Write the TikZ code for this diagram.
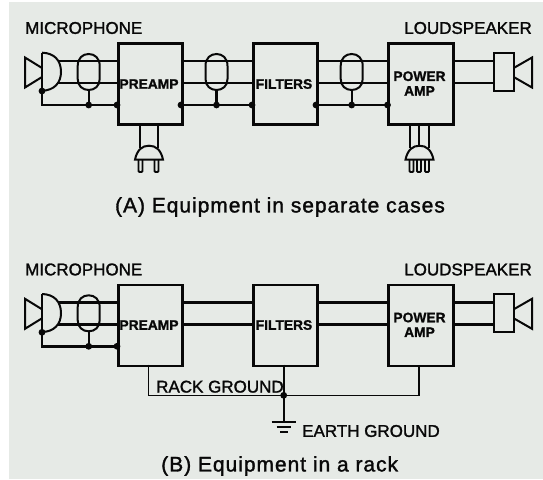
\documentclass[tikz,border=0pt]{standalone}
\usepackage{fontspec}
\setmainfont{Liberation Sans}
\newfontfamily\tagfont[FakeBold=1.5]{Liberation Sans}
\newfontfamily\capfont[FakeBold=1.5,LetterSpace=4.6]{Liberation Sans}
\newfontfamily\blockfont[FakeBold=1.2]{Liberation Sans Bold}
\definecolor{ink}{HTML}{080808}
\definecolor{paper}{HTML}{E6EAE6}
\tikzset{
  x=1pt,y=-1pt,
  heavy/.style={line width=2.7pt,draw=ink,fill=none,inner sep=0pt,anchor=north west},
  wire/.style={line width=2.4pt,draw=ink},
  thin wire/.style={line width=2pt,draw=ink},
  rack wire/.style={line width=1.6pt,draw=ink},
  blocklabel/.style={font=\fontsize{13.8}{14.7}\blockfont\selectfont,align=center,text=ink,inner sep=0pt},
  tag/.style={font=\fontsize{17}{18}\tagfont\selectfont,text=ink,inner sep=0pt},
  caption/.style={font=\fontsize{21}{22}\capfont\selectfont,text=ink,inner sep=0pt},
  junction/.style={circle,fill=ink,inner sep=0pt,minimum size=6.8pt},
}
\newcommand{\micro}[1]{%
  \begin{scope}[yshift=#1]
    \draw[thin wire,line join=miter] (42,68) -- (25,57.5) -- (25,87.5) -- (42,77);
    \draw[thin wire] (42,52.7) -- (42,90.7);
    \draw[thin wire] (42,52.7) .. controls (54,53) and (61,60) .. (61,72) .. controls (61,83) and (54,90.5) .. (42,90.7);
  \end{scope}}
\newcommand{\capsule}[2]{%
  \begin{scope}[yshift=#2]
    \draw[thin wire] (#1-11,66) .. controls (#1-11,58) and (#1-6,54) .. (#1,54) .. controls (#1+6,54) and (#1+11,58) .. (#1+11,66) -- (#1+11,79) .. controls (#1+11,86) and (#1+6,90) .. (#1,90) .. controls (#1-6,90) and (#1-11,86) .. (#1-11,79) -- cycle;
  \end{scope}}
\newcommand{\loudspk}[1]{%
  \begin{scope}[yshift=#1]
    \draw[thin wire] (493.7,52.7) rectangle (513.7,91);
    \draw[thin wire,line join=miter] (513.7,68) -- (532,57.5) -- (532,87.5) -- (513.7,77);
  \end{scope}}
\newcommand{\dome}[1]{%
  \draw[thin wire,line join=miter] (#1-14,159.7) .. controls (#1-12,150) and (#1-7,145.7) .. (#1,145.7) .. controls (#1+7,145.7) and (#1+12,150) .. (#1+14,159.7) -- cycle;}
\newcommand{\prong}[1]{%
  \draw[line width=1.8pt,draw=ink,rounded corners=1pt] (#1-2,159.7) -- (#1-2,172) -- (#1+2,172) -- (#1+2,159.7);}
\begin{document}
\begin{tikzpicture}
\useasboundingbox (0,0) rectangle (543,479);
\fill[white] (0,0) rectangle (543,479);
\fill[paper] (9,2) rectangle (543,479);

%% Panel A
\node[tag,anchor=west] (micA) at (25,28) {MICROPHONE};
\node[tag,anchor=east] (spkA) at (532,28) {LOUDSPEAKER};
\node[heavy,draw,minimum width=64pt,minimum height=81pt] (preA) at (117,42) {};
\node[heavy,draw,minimum width=64pt,minimum height=81pt] (filA) at (252,42) {};
\node[heavy,draw,minimum width=65pt,minimum height=81pt] (powA) at (387,42) {};
\node[blocklabel] (preAt) at (149,84) {PREAMP};
\node[blocklabel] (filAt) at (284,84) {FILTERS};
\node[blocklabel] (powAt) at (419.5,83.5) {POWER\\AMP};

\foreach \yy in {61,83}{
  \draw[wire] (58,\yy) -- (117,\yy);
  \draw[wire] (181,\yy) -- (252,\yy);
  \draw[wire] (316,\yy) -- (387,\yy);
  \draw[wire] (452,\yy) -- (494,\yy);
}
\micro{0pt}
\capsule{88.7}{0pt}
\capsule{216.5}{0pt}
\capsule{351.7}{0pt}
\loudspk{0pt}
\draw[wire] (42,91) -- (42,105) -- (117,105);
\draw[wire] (181,105) -- (252,105);
\draw[wire] (316,105) -- (387,105);
\draw[wire] (88.7,90) -- (88.7,105);
\draw[wire] (216.5,90) -- (216.5,105);
\draw[wire] (351.7,90) -- (351.7,105);
\foreach \xx/\yy in {42/91,88.7/105,117/105,181/105,216.5/105,252/105,316/105,351.7/105,387.5/105}{
  \node[junction] at (\xx,\yy) {};
}
% plugs
\draw[thin wire] (139.7,123) -- (139.7,148);
\draw[thin wire] (158.3,123) -- (158.3,148);
\dome{149}
\prong{140.5}\prong{156.5}
\draw[thin wire] (410,123) -- (410,148);
\draw[thin wire] (419,123) -- (419,146);
\draw[thin wire] (429,123) -- (429,148);
\dome{419.5}
\prong{411.5}\prong{419}\prong{427}
\node[caption] (capA) at (280,207) {(A) Equipment in separate cases};

%% Panel B
\node[tag,anchor=west] (micB) at (25,269.5) {MICROPHONE};
\node[tag,anchor=east] (spkB) at (532,269.5) {LOUDSPEAKER};
\node[heavy,draw,minimum width=64pt,minimum height=81pt] (preB) at (117,283.5) {};
\node[heavy,draw,minimum width=64pt,minimum height=81pt] (filB) at (252,283.5) {};
\node[heavy,draw,minimum width=65pt,minimum height=81pt] (powB) at (387,283.5) {};
\node[blocklabel] (preBt) at (149,325) {PREAMP};
\node[blocklabel] (filBt) at (284,325) {FILTERS};
\node[blocklabel] (powBt) at (419.5,324.8) {POWER\\AMP};
\foreach \yy in {302.3,324.3}{
  \draw[wire] (58,\yy) -- (117,\yy);
  \draw[wire] (181,\yy) -- (252,\yy);
  \draw[wire] (316,\yy) -- (387,\yy);
  \draw[wire] (452,\yy) -- (494,\yy);
}
\micro{-241.3pt}
\capsule{88.7}{-241.3pt}
\loudspk{-241.3pt}
\draw[wire] (42,332.3) -- (42,346.3) -- (117,346.3);
\draw[wire] (88.7,331.3) -- (88.7,346.3);
\node[junction] (j1) at (42,332.3) {};
\node[junction] (j2) at (88.7,346.3) {};
\node[junction] (j3) at (117,346.3) {};
\coordinate (rackL) at (148.3,395.3);
\coordinate (rackR) at (419,395.3);
\coordinate (earth) at (283.7,421.7);
\node[junction] (rackJ) at (283.7,395.3) {};
\draw[rack wire] (148.3,364.5) -- (rackL) -- (rackR) -- (419,364.5);
\draw[wire] (283.7,364.5) -- (earth);
\draw[wire] (271.7,422) -- (295.7,422);
\draw[thin wire] (276.5,427) -- (291,427);
\draw[thin wire] (280,432) -- (287.5,432);
\node[tag,anchor=west] (rack) at (156,386.7) {RACK GROUND};
\node[tag,anchor=west] (earthT) at (302,431) {EARTH GROUND};
\node[caption] (capB) at (279.7,466) {(B) Equipment in a rack};
\end{tikzpicture}
\end{document}
